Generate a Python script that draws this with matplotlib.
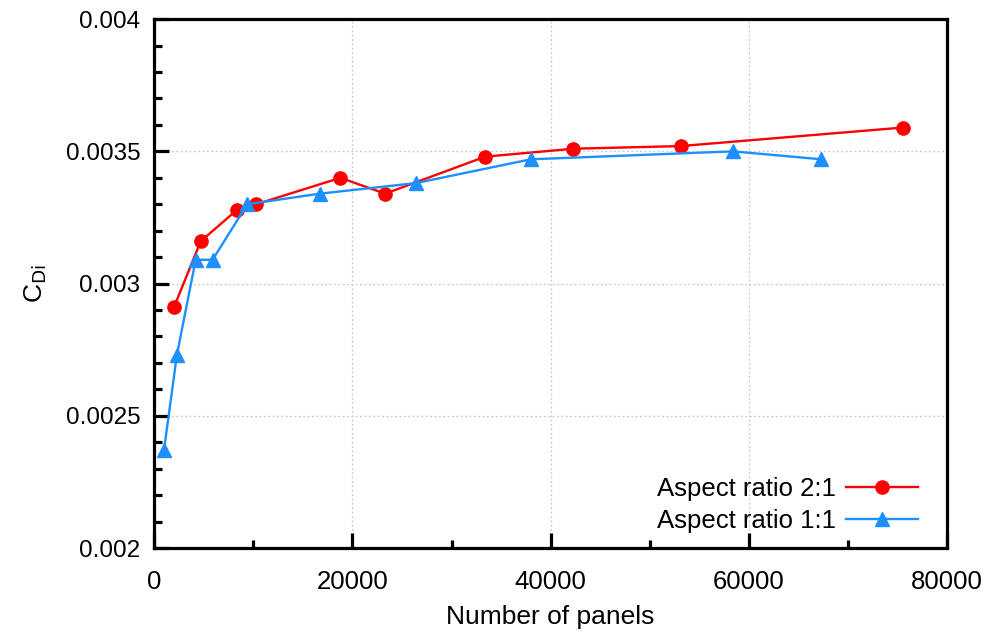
import matplotlib.pyplot as plt
from matplotlib.ticker import MultipleLocator, FuncFormatter

# panel counts and induced drag coefficient for the two wings
panels_ar2 = [2000, 4700, 8400, 10300, 18800, 23300, 33400, 42300, 53100, 75500]
cdi_ar2 = [0.00291, 0.00316, 0.00328, 0.00330, 0.00340, 0.00334, 0.00348, 0.00351, 0.00352, 0.00359]

panels_ar1 = [1000, 2300, 4200, 5900, 9400, 16700, 26400, 38000, 58400, 67300]
cdi_ar1 = [0.00237, 0.00273, 0.00309, 0.00309, 0.00330, 0.00334, 0.00338, 0.00347, 0.00350, 0.00347]

labels = ["Aspect ratio 2:1", "Aspect ratio 1:1"]

plt.rcParams['font.family'] = ['Liberation Sans', 'DejaVu Sans']

fig = plt.figure(figsize=(9.94, 6.38), dpi=100)
ax = fig.add_axes([0.155, 0.141, 0.798, 0.829])

ax.plot(panels_ar2, cdi_ar2, color='#ff0000', lw=1.7, marker='o', ms=9.5, label=labels[0])
ax.plot(panels_ar1, cdi_ar1, color='#1e8fff', lw=1.7, marker='^', ms=10, label=labels[1])

ax.set_xlim(0, 80000)
ax.set_ylim(0.002, 0.004)
ax.xaxis.set_major_locator(MultipleLocator(20000))
ax.xaxis.set_minor_locator(MultipleLocator(10000))
ax.yaxis.set_major_locator(MultipleLocator(0.0005))
ax.yaxis.set_minor_locator(MultipleLocator(0.0001))
ax.yaxis.set_major_formatter(FuncFormatter(lambda v, p: '%g' % v))

ax.grid(True, which='major', color='#c8c8c8', ls=(0, (1.5, 2)), lw=0.9)
ax.set_axisbelow(True)

for s in ax.spines.values():
    s.set_linewidth(2.3)
ax.tick_params(which='both', direction='in', width=2.3, top=False, right=False)
ax.tick_params(which='major', length=11)
ax.tick_params(which='minor', length=6)
ax.tick_params(axis='x', labelsize=18.5, pad=16)
ax.tick_params(axis='y', labelsize=17.5, pad=10)

ax.set_xlabel("Number of panels", fontsize=19, labelpad=8)
ax.set_ylabel(r"C$_{\mathrm{Di}}$", fontsize=19, labelpad=12)

leg = ax.legend(loc='lower right', bbox_to_anchor=(0.963, 0.028), frameon=False,
                markerfirst=False, fontsize=18.5, handlelength=2.8, labelspacing=0.31,
                borderaxespad=0, borderpad=0, handletextpad=0.4)

fig.savefig('out.png', dpi=100)
